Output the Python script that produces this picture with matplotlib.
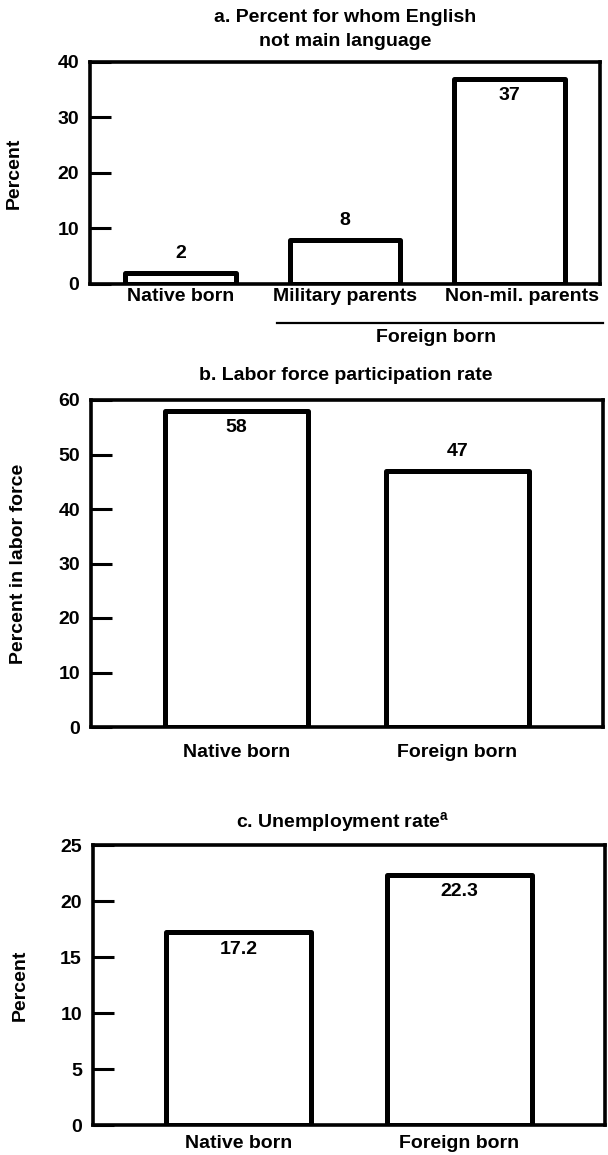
import matplotlib.pyplot as plt
from matplotlib.transforms import ScaledTranslation

plt.rcParams['font.family'] = ['Liberation Sans', 'DejaVu Sans']
plt.rcParams['font.weight'] = 'bold'
plt.rcParams['axes.labelweight'] = 'bold'
plt.rcParams['mathtext.fontset'] = 'custom'
plt.rcParams['mathtext.rm'] = 'Liberation Sans:bold'

# Panel a: English not main language
cats_a = ['Native born', 'Military parents', 'Non-mil. parents']
vals_a = [2, 8, 37]
ticks_a = [0, 10, 20, 30, 40]

# Panel b: labor force participation
cats_b = ['Native born', 'Foreign born']
vals_b = [58, 47]
ticks_b = [0, 10, 20, 30, 40, 50, 60]

# Panel c: unemployment rate
cats_c = ['Native born', 'Foreign born']
vals_c = [17.2, 22.3]
ticks_c = [0, 5, 10, 15, 20, 25]

W, H = 608, 1155
FS = 14
fig = plt.figure(figsize=(W / 100, H / 100), dpi=100, facecolor='white')


def px_axes(left, right, top, bottom):
    return fig.add_axes([left / W, 1 - bottom / H, (right - left) / W, (bottom - top) / H])


def draw_panel(ax, cats, vals, ticks, inside, xlim, width, ylabel, xpad):
    x = list(range(len(cats)))
    ax.bar(x, vals, width=width, facecolor='white', edgecolor='black',
           linewidth=3.6, joinstyle='round', zorder=3)
    ax.set_xlim(*xlim)
    ax.set_ylim(ticks[0], ticks[-1])
    ax.set_yticks(ticks)
    ax.set_yticklabels([str(t) for t in ticks], fontsize=FS)
    ax.tick_params(axis='y', direction='in', length=15, width=2.2, pad=8)
    ax.set_xticks(x)
    ax.set_xticklabels(cats, fontsize=FS)
    ax.tick_params(axis='x', length=0, pad=xpad)
    for s in ax.spines.values():
        s.set_linewidth(2.6)
    ax.set_ylabel(ylabel, fontsize=FS)
    for xi, v, ins in zip(x, vals, inside):
        txt = ('%g' % v)
        off = -12 if ins else 14
        ax.annotate(txt, (xi, v), xytext=(0, off), textcoords='offset points',
                    ha='center', va='center', fontsize=FS, zorder=4)


# Panel a
ax_a = px_axes(90, 600, 62, 284)
draw_panel(ax_a, cats_a, vals_a, ticks_a, [False, False, True],
           (-0.55, 2.55), 0.67, 'Percent', 3)
ax_a.yaxis.set_label_coords(-0.131, 0.5)
# last category label sits a bit right of its bar in the original
lab = ax_a.get_xticklabels()[-1]
lab.set_transform(lab.get_transform() + ScaledTranslation(0.12, 0, fig.dpi_scale_trans))
ax_a.plot([0.367, 1.006], [-0.176, -0.176], transform=ax_a.transAxes,
          color='black', linewidth=1.6, clip_on=False)
ax_a.text(0.678, -0.243, 'Foreign born', transform=ax_a.transAxes,
          ha='center', va='center', fontsize=FS)
fig.text(345 / W, 1 - 17 / H, 'a. Percent for whom English', ha='center', va='center', fontsize=FS)
fig.text(345 / W, 1 - 42 / H, 'not main language', ha='center', va='center', fontsize=FS)

# Panel b
ax_b = px_axes(91, 603, 400, 727)
draw_panel(ax_b, cats_b, vals_b, ticks_b, [True, False],
           (-0.66, 1.66), 0.65, 'Percent in labor force', 12)
ax_b.yaxis.set_label_coords(-0.125, 0.5)
fig.text(346 / W, 1 - 375 / H, 'b. Labor force participation rate', ha='center', va='center', fontsize=FS)

# Panel c
ax_c = px_axes(93, 605, 845, 1125)
draw_panel(ax_c, cats_c, vals_c, ticks_c, [True, True],
           (-0.66, 1.66), 0.66, 'Percent', 7)
ax_c.yaxis.set_label_coords(-0.125, 0.5)
fig.text(343 / W, 1 - 823 / H, r'c. Unemployment rate$^{\mathrm{a}}$', ha='center', va='center', fontsize=FS)

fig.savefig('out.png', dpi=100, facecolor='white')
plt.close(fig)
